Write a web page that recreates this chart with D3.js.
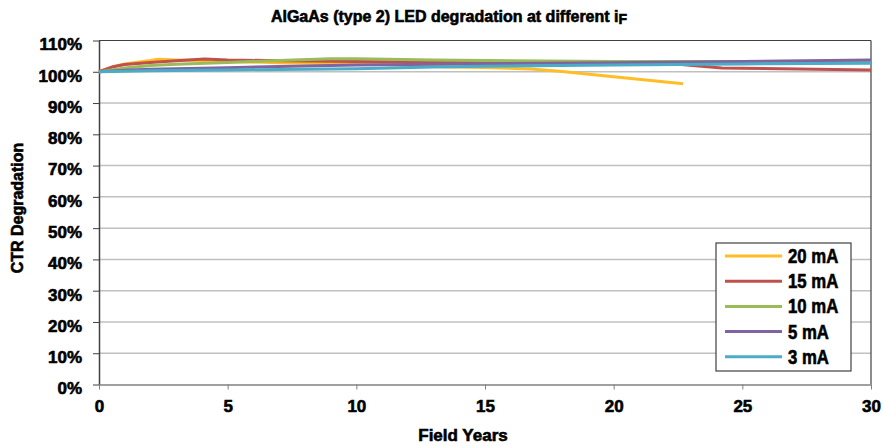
<!DOCTYPE html>
<html><head><meta charset="utf-8">
<script src="https://cdn.jsdelivr.net/npm/d3@7"></script>
<style>
html,body{margin:0;padding:0;background:#fff;}
svg text{font-family:"Liberation Sans",Arial,sans-serif;font-weight:bold;fill:#000;stroke:#000;stroke-width:0.6px;}
</style></head>
<body><svg id="c" width="883" height="446"></svg>
<script>
// ---- data ----
const seriesNames = ["20 mA","15 mA","10 mA","5 mA","3 mA"];
const seriesColors = ["#FFBE26","#C0504D","#9BBB59","#8064A2","#4BACC6"];
const years20 = [0,0.5,1,2,2.3,3,4,5,7,10,11,13.6,15,16.8,18,20,22.7];
const vals20  = [100,101.5,102.5,103.6,104,103.8,103.6,103.3,102.9,102.5,102.3,101.5,101.4,100.9,100.1,98.4,96.2];
const years15 = [0,0.5,1,2,3,4.1,5,7,10,15,20,22.4,24.2,25,30];
const vals15  = [100,101.5,102.3,103,103.5,104.1,103.8,103.5,103.3,103,102.8,102.5,101.2,101.1,100.6];
const years10 = [0,0.5,1,2,3,5,7,9,10,13,15,20,25,30];
const vals10  = [100,100.6,101.2,102,102.4,103,103.6,104.2,104.2,103.8,103.6,103.3,103.3,103.4];
const years5  = [0,1,2,5,7,10,15,20,25,30];
const vals5   = [100,100.5,100.8,101.3,101.7,102.2,102.6,102.9,103.3,103.8];
const years3  = [0,2,5,10,13,15,20,25,30];
const vals3   = [100,100.3,100.6,101,101.5,101.8,102.2,102.5,102.7];
const xTicks = [0,5,10,15,20,25,30];
const yTicks = [0,10,20,30,40,50,60,70,80,90,100,110];

const seriesX = [years20,years15,years10,years5,years3];
const seriesY = [vals20,vals15,vals10,vals5,vals3];

// ---- layout ----
const svg = d3.select("#c");
const L=99, R=871, T=40.5, B=384.5;
const x = d3.scaleLinear().domain([0,30]).range([L,R]);
const y = d3.scaleLinear().domain([0,110]).range([B,T]);

// gridlines
svg.append("g").selectAll("line").data(yTicks.filter(d=>d>0 && d<110)).join("line")
  .attr("x1",L).attr("x2",R).attr("y1",d=>y(d)).attr("y2",d=>y(d))
  .attr("stroke","#c0c0c0").attr("stroke-width",1.5);

// plot border top/right
svg.append("line").attr("x1",L).attr("x2",R).attr("y1",T).attr("y2",T).attr("stroke","#404040").attr("stroke-width",1.2);
svg.append("line").attr("x1",R).attr("x2",R).attr("y1",T).attr("y2",B).attr("stroke","#404040").attr("stroke-width",1.2);

// axes
const yAxis = svg.append("g").attr("transform",`translate(${L},0)`)
  .call(d3.axisLeft(y).tickValues(yTicks).tickFormat(d=>d+"%").tickSizeOuter(0).tickSizeInner(6).tickPadding(11));
yAxis.select(".domain").attr("stroke","#404040").attr("stroke-width",1.5);
yAxis.selectAll(".tick line").attr("stroke","#404040");
yAxis.selectAll("text").style("font-size","17px").attr("dy","0.55em");

const xAxis = svg.append("g").attr("transform",`translate(0,${B})`)
  .call(d3.axisBottom(x).tickValues(xTicks).tickFormat(d3.format("d")).tickSizeOuter(0).tickSizeInner(5).tickPadding(10));
xAxis.select(".domain").attr("stroke","#808080").attr("stroke-width",1.5);
xAxis.selectAll(".tick line").attr("stroke","#808080");
xAxis.selectAll("text").style("font-size","17px");

// lines
const line = d3.line().x(d=>x(d[0])).y(d=>y(d[1]));
seriesNames.forEach((n,i)=>{
  const pts = seriesX[i].map((v,j)=>[v,seriesY[i][j]]);
  svg.append("path").datum(pts).attr("d",line).attr("fill","none")
    .attr("stroke",seriesColors[i]).attr("stroke-width",3).attr("stroke-linejoin","round");
});

// title
const title = svg.append("text").attr("x",449).attr("y",22).attr("text-anchor","middle").style("font-size","16px");
title.append("tspan").text("AlGaAs (type 2) LED degradation at different i");
title.append("tspan").attr("dy",2).style("font-size","14px").text("F");

// axis titles
svg.append("text").attr("x",463).attr("y",441).attr("text-anchor","middle").style("font-size","17px").text("Field Years");
svg.append("text").attr("transform","translate(23,208) rotate(-90)").attr("text-anchor","middle").style("font-size","16px").text("CTR Degradation");

// legend
const lg = svg.append("g");
lg.append("rect").attr("x",716).attr("y",243).attr("width",135).attr("height",128)
  .attr("fill","#fff").attr("stroke","#404040").attr("stroke-width",1.2);
seriesNames.forEach((n,i)=>{
  const yy = 256 + i*25.2;
  lg.append("line").attr("x1",725).attr("x2",782).attr("y1",yy).attr("y2",yy)
    .attr("stroke",seriesColors[i]).attr("stroke-width",3);
  lg.append("text").attr("transform",`translate(788,${yy+7}) scale(0.86,1)`).style("font-size","19.5px").text(n);
});
</script></body></html>
